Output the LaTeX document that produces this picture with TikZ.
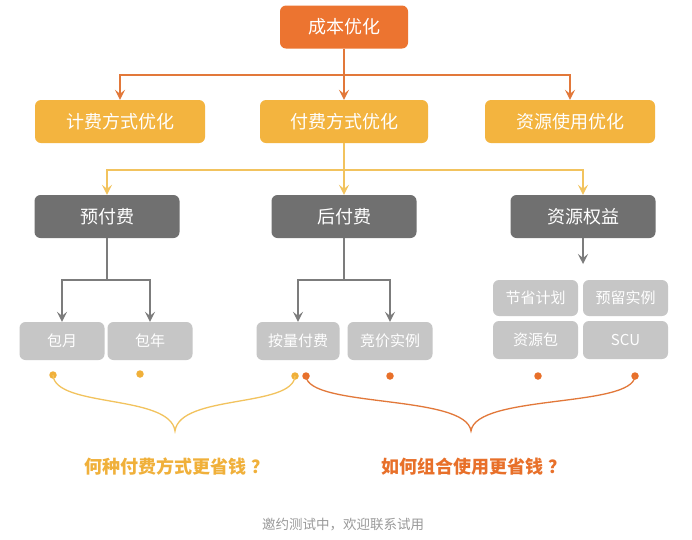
\documentclass[tikz,border=0pt]{standalone}
\usepackage{fontspec}
\setmainfont{Noto Sans CJK SC}
\usetikzlibrary{arrows.meta}
\definecolor{topor}{HTML}{EC7430}
\definecolor{ylw}{HTML}{F3B43F}
\definecolor{dgray}{HTML}{707070}
\definecolor{lgray}{HTML}{C6C6C6}
\definecolor{orline}{HTML}{E2783A}
\definecolor{yline}{HTML}{F2C35E}
\definecolor{gline}{HTML}{7C7C7C}
\definecolor{ytext}{HTML}{F0B03A}
\definecolor{otext}{HTML}{E8702A}
\definecolor{ftext}{HTML}{9A9A9A}
\begin{document}
\begin{tikzpicture}[x=1pt,y=-1pt,
  box/.style={rounded corners=6pt, inner sep=0pt, text=white, minimum height=43pt},
  topbox/.style={box, fill=topor, minimum width=128pt, font=\fontsize{18}{20}\selectfont},
  ybox/.style={box, fill=ylw, minimum width=170pt, font=\fontsize{18}{20}\selectfont},
  dbox/.style={box, fill=dgray, minimum width=145pt, font=\fontsize{18}{20}\selectfont},
  lbox/.style={box, fill=lgray, minimum width=85pt, minimum height=38pt, font=\fontsize{15}{17}\selectfont},
  gbox/.style={box, fill=lgray, minimum width=85pt, minimum height=36pt, font=\fontsize{15}{17}\selectfont},
  tip/.style={-{Stealth[length=10pt,width=10pt,inset=4pt]}},
  oline/.style={draw=orline, line width=1.4pt},
  yl/.style={draw=yline, line width=1.4pt},
  gl/.style={draw=gline, line width=1.4pt},
  ydot/.style={circle, fill=ytext, inner sep=0pt, minimum size=7.5pt},
  odot/.style={circle, fill=otext, inner sep=0pt, minimum size=7.5pt}
]
\useasboundingbox (0,0) rectangle (692,539);
\fill[white] (0,0) rectangle (692,539);

\node[topbox] (top) at (344,27) {成本优化};
\node[ybox] (l2a) at (120,121.5) {计费方式优化};
\node[ybox, minimum width=168pt] (l2b) at (344,121.5) {付费方式优化};
\node[ybox] (l2c) at (570,121.5) {资源使用优化};

\node[dbox] (l3a) at (107,216.5) {预付费};
\node[dbox] (l3b) at (344,216.5) {后付费};
\node[dbox] (l3c) at (583,216.5) {资源权益};

\node[lbox] (l4a) at (62,341) {包月};
\node[lbox] (l4b) at (150,341) {包年};
\node[lbox, minimum width=83pt] (l4c) at (298,341) {按量付费};
\node[lbox] (l4d) at (390,341) {竞价实例};

\node[gbox] (r1) at (535.5,298) {节省计划};
\node[gbox] (r2) at (625.5,298) {预留实例};
\node[gbox, minimum height=38pt] (r3) at (535.5,340) {资源包};
\node[gbox, minimum height=38pt] (r4) at (625.5,340) {SCU};

% connectors
\coordinate (j1) at (344,75);
\draw[oline] (top.south) -- (j1);
\draw[oline,tip] (j1) -| (l2a.north);
\draw[oline,tip] (j1) -| (l2c.north);
\draw[oline,tip] (j1) -- (l2b.north);

\coordinate (j2) at (344,170);
\draw[yl] (l2b.south) -- (j2);
\draw[yl,tip] (j2) -| (l3a.north);
\draw[yl,tip] (j2) -| (l3c.north);
\draw[yl,tip] (j2) -- (l3b.north);

\coordinate (j3) at (107,280);
\draw[gl] (l3a.south) -- (j3);
\draw[gl,tip] (j3) -| (l4a.north);
\draw[gl,tip] (j3) -| (l4b.north);

\coordinate (j4) at (344,280);
\draw[gl] (l3b.south) -- (j4);
\draw[gl,tip] (j4) -| (l4c.north);
\draw[gl,tip] (j4) -| (l4d.north);

\coordinate (e5) at (583,264);
\draw[gl,tip] (l3c.south) -- (e5);

% dots
\node[ydot] (d1) at (53,375) {};
\node[ydot] (d2) at (140,374) {};
\node[ydot] (d3) at (295,376) {};
\node[odot] (d4) at (306,376) {};
\node[odot] (d5) at (390,376) {};
\node[odot] (d6) at (538,376) {};
\node[odot] (d7) at (635,376) {};

% braces
\coordinate (ya) at (175,431);
\coordinate (oa) at (471,431);
\draw[draw=yline, line width=1.3pt] (d1.center) .. controls (55,408) and (170,394) .. (ya)
   .. controls (180,394) and (293,408) .. (d3.center);
\draw[draw=orline, line width=1.3pt] (d4.center) .. controls (308,408) and (466,394) .. (oa)
   .. controls (476,394) and (633,408) .. (d7.center);

% texts
\node[text=ytext, font=\fontsize{18}{20}\selectfont\bfseries] (q1) at (177,467) {何种付费方式更省钱\hspace{5pt}？};
\node[text=otext, font=\fontsize{18}{20}\selectfont\bfseries] (q2) at (474,467) {如何组合使用更省钱\hspace{5pt}？};
\node[text=ftext, font=\fontsize{13.5}{15}\selectfont] (ft) at (343,525) {邀约测试中，欢迎联系试用};
\end{tikzpicture}
\end{document}
